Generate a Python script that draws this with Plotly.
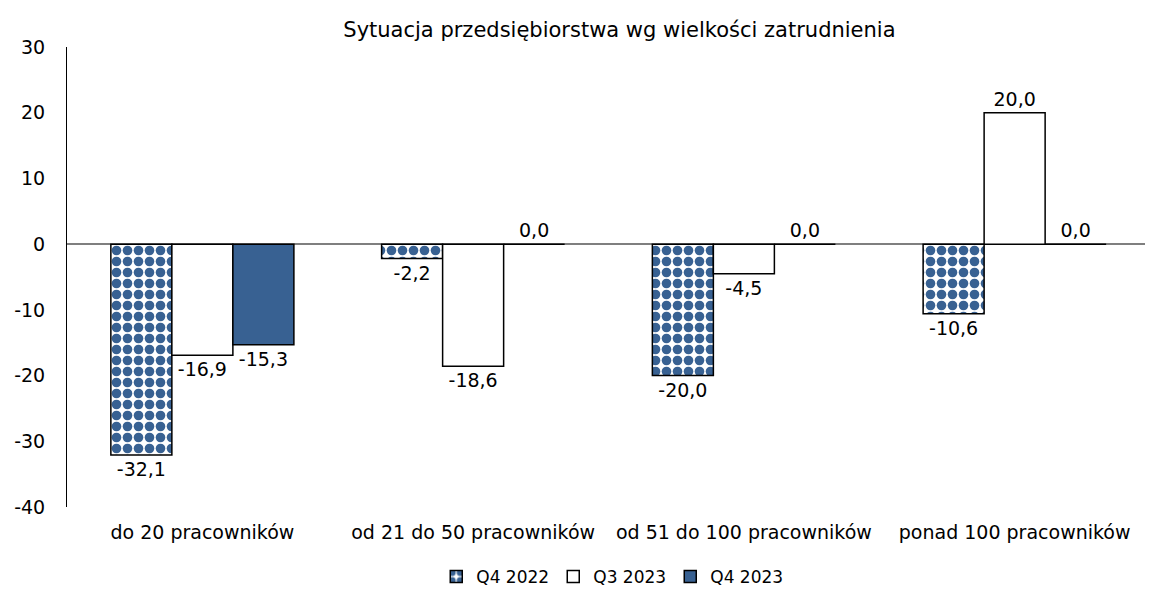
import plotly.graph_objects as go

categories = ["do 20 pracowników", "od 21 do 50 pracowników", "od 51 do 100 pracowników", "ponad 100 pracowników"]
q4_2022 = [-32.1, -2.2, -20.0, -10.6]
q3_2023 = [-16.9, -18.6, -4.5, 20.0]
q4_2023 = [-15.3, 0.0, 0.0, 0.0]
series_names = ["Q4 2022", "Q3 2023", "Q4 2023"]
y_ticks = [30, 20, 10, 0, -10, -20, -30, -40]
y_tick_text = ["30", "20", "10", "0", "-10", "-20", "-30", "-40"]

BLUE = "#386192"
FONT = "DejaVu Sans"

def fmt(v):
    return f"{v:.1f}".replace(".", ",")

fig = go.Figure()
fig.add_trace(go.Bar(
    x=categories, y=q4_2022, name=series_names[0],
    marker=dict(color="white", line=dict(color="black", width=1.5),
                pattern=dict(shape=".", fgcolor=BLUE, bgcolor="white", fgopacity=1, size=11, solidity=0.6,
                             fillmode="replace")),
    text=[fmt(v) for v in q4_2022], textposition="outside", cliponaxis=False,
))
fig.add_trace(go.Bar(
    x=categories, y=q3_2023, name=series_names[1],
    marker=dict(color="white", line=dict(color="black", width=1.5)),
    text=[fmt(v) for v in q3_2023], textposition="outside", cliponaxis=False,
))
fig.add_trace(go.Bar(
    x=categories, y=q4_2023, name=series_names[2],
    marker=dict(color=BLUE, line=dict(color="black", width=1.5)),
    text=[fmt(v) for v in q4_2023], textposition="outside", cliponaxis=False,
))

fig.update_traces(textfont=dict(family=FONT, size=19, color="black"))

fig.update_layout(
    width=1145, height=582,
    paper_bgcolor="white", plot_bgcolor="white",
    font=dict(family=FONT, size=19, color="black"),
    title=dict(text="Sytuacja przedsiębiorstwa wg wielkości zatrudnienia", x=0.534, xanchor="center",
               y=0.962, yanchor="middle", font=dict(size=21)),
    margin=dict(l=59, r=3, t=39, b=83, autoexpand=False),
    barmode="group", bargap=0.324, bargroupgap=0,
    showlegend=True,
    legend=dict(orientation="h", x=0.503, xanchor="center", yref="container", y=0.0223, yanchor="middle",
                font=dict(size=17), itemwidth=30, entrywidth=72, entrywidthmode="pixels",
                traceorder="normal"),
)
fig.update_yaxes(range=[-40, 30], tickvals=y_ticks, ticktext=y_tick_text, showgrid=False, zeroline=True,
                 zerolinecolor="#7f7f7f", zerolinewidth=1.5, showline=True, linecolor="black", linewidth=1,
                 ticks="", ticklabelstandoff=17, tickfont=dict(size=19))
fig.update_xaxes(showgrid=False, showline=False, ticks="", tickfont=dict(size=19), ticklabelstandoff=12)

fig.write_html("out.html")
